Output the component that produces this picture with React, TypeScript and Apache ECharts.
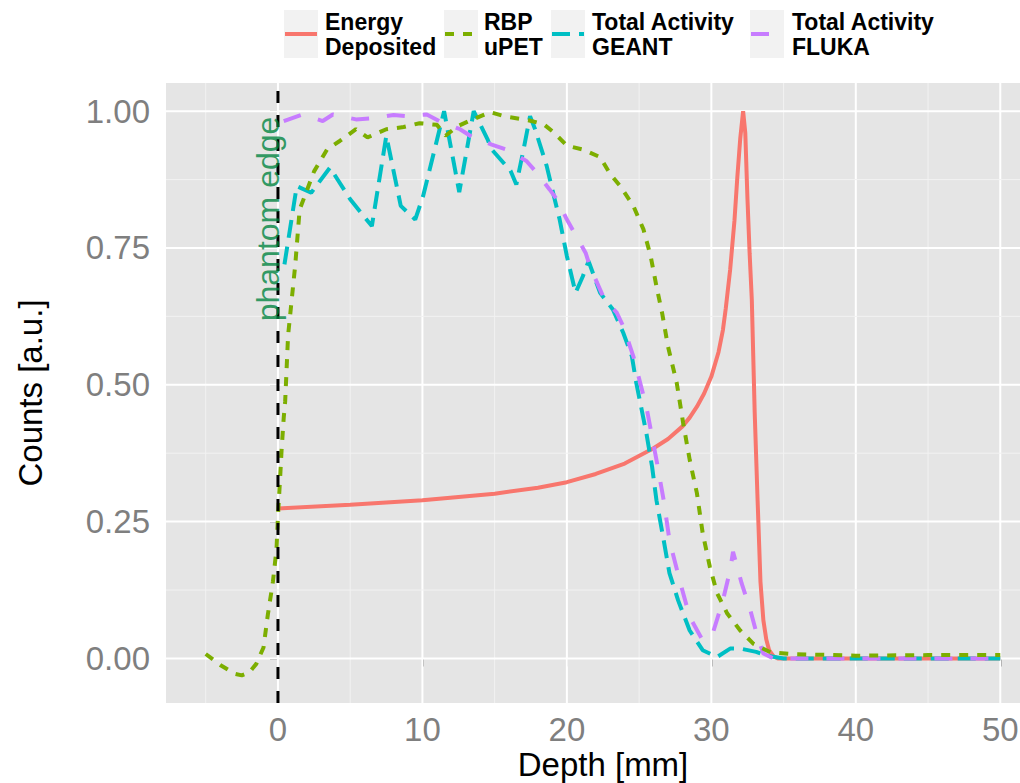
import React, { useEffect, useRef } from "react";
import * as echarts from "echarts";

// ---------- data ----------
const seriesNames = ["Energy Deposited", "RBP uPET", "Total Activity GEANT", "Total Activity FLUKA"];
const legendLabels = ["Energy\nDeposited", "RBP\nuPET", "Total Activity\nGEANT", "Total Activity\nFLUKA"];

const energyX = [0, 5, 10, 15, 18, 20, 22, 24, 26, 27, 28, 28.5, 29, 29.5, 30, 30.5, 30.8, 31, 31.3, 31.6, 31.8, 32.0, 32.2, 32.35, 32.5, 32.65, 32.8, 33.0, 33.2, 33.4, 33.6, 33.8, 34.0, 34.3, 34.6, 40, 45, 50];
const energyY = [0.274, 0.281, 0.289, 0.301, 0.312, 0.322, 0.337, 0.356, 0.384, 0.401, 0.424, 0.44, 0.46, 0.484, 0.515, 0.56, 0.6, 0.64, 0.71, 0.8, 0.88, 0.95, 1.0, 0.96, 0.84, 0.74, 0.656, 0.45, 0.29, 0.14, 0.07, 0.035, 0.015, 0.004, 0, 0, 0, 0];

const rbpX = [-5, -4, -3, -2.5, -2, -1.5, -1, -0.7, -0.35, -0.1, 0, 0.15, 0.25, 0.4, 0.5, 0.7, 1.2, 1.5, 2.5, 3.4, 4.3, 5.4, 6.2, 7.5, 8.7, 9.8, 11.0, 11.6, 12.4, 13.3, 14.7, 15.8, 17.4, 18.4, 19.1, 20.0, 21.1, 22.3, 23.0, 23.7, 24.6, 25.3, 25.8, 26.2, 26.6, 27.0, 27.6, 28.05, 28.5, 29.0, 29.4, 29.9, 30.4, 31.1, 32.0, 32.9, 34.1, 35.5, 40, 45, 50];
const rbpY = [0.008, -0.012, -0.028, -0.031, -0.026, -0.01, 0.02, 0.08, 0.14, 0.2, 0.26, 0.33, 0.38, 0.44, 0.47, 0.59, 0.72, 0.82, 0.89, 0.93, 0.946, 0.967, 0.952, 0.967, 0.971, 0.978, 0.975, 0.955, 0.972, 0.983, 0.998, 0.99, 0.983, 0.976, 0.961, 0.937, 0.93, 0.916, 0.885, 0.863, 0.827, 0.784, 0.735, 0.68, 0.63, 0.57, 0.504, 0.43, 0.363, 0.302, 0.229, 0.167, 0.119, 0.082, 0.051, 0.027, 0.011, 0.008, 0.005, 0.006, 0.006];

const geantX = [0.45, 1.3, 2.3, 3.6, 5.0, 6.5, 7.5, 8.5, 9.5, 10.05, 11.5, 12.55, 13.55, 14.5, 14.8, 16.1, 16.5, 17.0, 17.45, 17.8, 18.6, 19.1, 19.5, 20.0, 20.6, 21.1, 21.5, 22.3, 23.2, 23.9, 24.5, 24.8, 25.5, 25.9, 26.2, 26.7, 27.1, 27.7, 28.5, 29.4, 30.4, 31.3, 32.0, 33.1, 33.8, 35, 40, 45, 50];
const geantY = [0.72, 0.863, 0.851, 0.897, 0.839, 0.79, 0.955, 0.827, 0.802, 0.845, 1.0, 0.852, 1.0, 0.949, 0.93, 0.891, 0.866, 0.93, 0.991, 0.967, 0.9, 0.845, 0.802, 0.735, 0.668, 0.698, 0.726, 0.668, 0.637, 0.595, 0.552, 0.504, 0.412, 0.35, 0.289, 0.216, 0.156, 0.106, 0.051, 0.015, 0.0025, 0.018, 0.018, 0.012, 0.005, 0, 0, 0, 0];

const flukaX = [0.4, 1.7, 3.1, 3.8, 5.4, 6.6, 8.0, 8.9, 10.3, 11.3, 12.6, 13.5, 14.8, 15.8, 17.2, 17.8, 18.8, 19.3, 20.0, 20.6, 21.3, 21.6, 22.3, 22.6, 23.45, 23.9, 24.6, 25.5, 26.2, 26.7, 27.1, 27.8, 28.5, 29.4, 30.1, 30.8, 31.3, 31.5, 32.1, 32.7, 33.2, 33.6, 34.3, 40, 45, 50];
const flukaY = [0.982, 0.994, 0.982, 0.994, 0.985, 0.987, 0.993, 0.991, 0.994, 0.98, 0.967, 0.952, 0.939, 0.93, 0.909, 0.891, 0.857, 0.839, 0.802, 0.774, 0.741, 0.716, 0.674, 0.656, 0.632, 0.607, 0.552, 0.46, 0.363, 0.289, 0.216, 0.143, 0.076, 0.033, 0.046, 0.106, 0.161, 0.195, 0.137, 0.088, 0.039, 0.009, 0, 0, 0, 0];

const xTicks = [0, 10, 20, 30, 40, 50];
const xMinorTicks = [-5, 5, 15, 25, 35, 45];
const yTicks = [0, 0.25, 0.5, 0.75, 1];
const yMinorTicks = [0.125, 0.375, 0.625, 0.875];

const phantomEdgeX = 0;
const phantomLabel = "phantom edge";
const phantomLabelPos = [-0.69, 0.803];

const xLimits = [-7.75, 52.75];
const yLimits = [-0.0815, 1.0515];

// ---------- styles ----------
const colors = ["#F8766D", "#7CAE00", "#00BFC4", "#C77CFF"];
const dashes: any[] = ["solid", [9, 9], [18, 9], [18, 18]];
const FONT = "'Liberation Sans', Arial, Helvetica, sans-serif";

const zip = (xs: number[], ys: number[]) => xs.map((x, i) => [x, ys[i]]);

export default function App() {
  const ref = useRef<HTMLDivElement>(null);

  useEffect(() => {
    if (!ref.current) return;
    const chart = echarts.init(ref.current, undefined, { renderer: "svg" });

    const lineData = [zip(energyX, energyY), zip(rbpX, rbpY), zip(geantX, geantY), zip(flukaX, flukaY)];
    const zOrder = [2, 5, 3, 4];

    const dataSeries = seriesNames.map((name, i) => ({
      name,
      type: "line",
      data: lineData[i],
      showSymbol: false,
      symbol: "none",
      z: zOrder[i],
      lineStyle: { color: colors[i], width: 4, type: dashes[i], cap: "butt" },
      silent: true,
    }));

    const vGrid = [...xMinorTicks.map((v) => [v, 0]), ...xTicks.map((v) => [v, 1])];
    const hGrid = [...yMinorTicks.map((v) => [v, 0]), ...yTicks.map((v) => [v, 1])];

    const legendKeyX = [284, 444, 551, 750];
    const legendTextX = [325, 484, 592, 792];
    const legendGraphics: any[] = [];
    legendLabels.forEach((lab, i) => {
      legendGraphics.push({
        type: "rect",
        shape: { x: legendKeyX[i], y: 10, width: 34, height: 48 },
        style: { fill: "#F2F2F2" },
      });
      legendGraphics.push({
        type: "line",
        shape: { x1: legendKeyX[i] + 1, y1: 34, x2: legendKeyX[i] + 33, y2: 34 },
        style: { stroke: colors[i], lineWidth: 4, lineDash: dashes[i] === "solid" ? null : dashes[i] },
      });
      legendGraphics.push({
        type: "text",
        x: legendTextX[i],
        y: 34,
        style: {
          text: lab,
          font: `bold 23px ${FONT}`,
          fill: "#000",
          verticalAlign: "middle",
          align: "left",
          lineHeight: 25,
        },
      });
    });

    chart.setOption({
      animation: false,
      grid: {
        left: 166,
        top: 83,
        width: 874,
        height: 620,
        show: true,
        backgroundColor: "#E5E5E5",
        borderWidth: 0,
        containLabel: false,
        outerBoundsMode: "none",
      },
      xAxis: {
        type: "value",
        min: xLimits[0],
        max: xLimits[1],
        axisLine: { show: false },
        splitLine: { show: false },
        axisTick: { show: true, customValues: xTicks, length: 8, lineStyle: { color: "#7F7F7F", width: 1.5 } },
        axisLabel: { customValues: xTicks, color: "#7F7F7F", fontSize: 33, margin: 10, fontFamily: FONT },
        name: "Depth [mm]",
        nameLocation: "middle",
        nameGap: 45,
        nameMoveOverlap: false,
        nameTextStyle: { fontSize: 33, color: "#000", fontFamily: FONT },
      },
      yAxis: {
        type: "value",
        min: yLimits[0],
        max: yLimits[1],
        axisLine: { show: false },
        splitLine: { show: false },
        axisTick: { show: true, customValues: yTicks, length: 8, lineStyle: { color: "#7F7F7F", width: 1.5 } },
        axisLabel: {
          customValues: yTicks,
          color: "#7F7F7F",
          fontSize: 33,
          margin: 16,
          fontFamily: FONT,
          formatter: (v: number) => v.toFixed(2),
        },
        name: "Counts [a.u.]",
        nameLocation: "middle",
        nameGap: 119,
        nameRotate: 90,
        nameMoveOverlap: false,
        nameTextStyle: { fontSize: 33, color: "#000", fontFamily: FONT },
      },
      graphic: legendGraphics,
      series: [
        {
          type: "custom",
          z: 1,
          silent: true,
          data: vGrid,
          renderItem: (params: any, api: any) => {
            const cs = params.coordSys;
            const x = api.coord([api.value(0), 0])[0];
            const major = api.value(1) === 1;
            return {
              type: "line",
              shape: { x1: x, y1: cs.y, x2: x, y2: cs.y + cs.height },
              style: { stroke: major ? "#FFFFFF" : "#F2F2F2", lineWidth: major ? 2 : 1 },
            };
          },
        },
        {
          type: "custom",
          z: 1,
          silent: true,
          data: hGrid,
          renderItem: (params: any, api: any) => {
            const cs = params.coordSys;
            const y = api.coord([0, api.value(0)])[1];
            const major = api.value(1) === 1;
            return {
              type: "line",
              shape: { x1: cs.x, y1: y, x2: cs.x + cs.width, y2: y },
              style: { stroke: major ? "#FFFFFF" : "#F2F2F2", lineWidth: major ? 2 : 1 },
            };
          },
        },
        ...dataSeries,
        {
          type: "line",
          z: 6,
          silent: true,
          symbol: "none",
          data: [
            [phantomEdgeX, yLimits[0]],
            [phantomEdgeX, yLimits[1]],
          ],
          lineStyle: { color: "#000000", width: 3, type: [12, 12] },
        },
        {
          type: "scatter",
          z: 7,
          silent: true,
          symbolSize: 0,
          data: [phantomLabelPos],
          label: {
            show: true,
            position: "inside",
            rotate: 90,
            formatter: phantomLabel,
            fontSize: 32,
            color: "#00843F",
            fontFamily: FONT,
            align: "center",
            verticalAlign: "middle",
          },
        },
      ],
    });

    return () => chart.dispose();
  }, []);

  return (
    <div
      ref={ref}
      style={{ position: "absolute", left: 0, top: 0, width: 1020, height: 783, background: "#FFFFFF" }}
    />
  );
}
